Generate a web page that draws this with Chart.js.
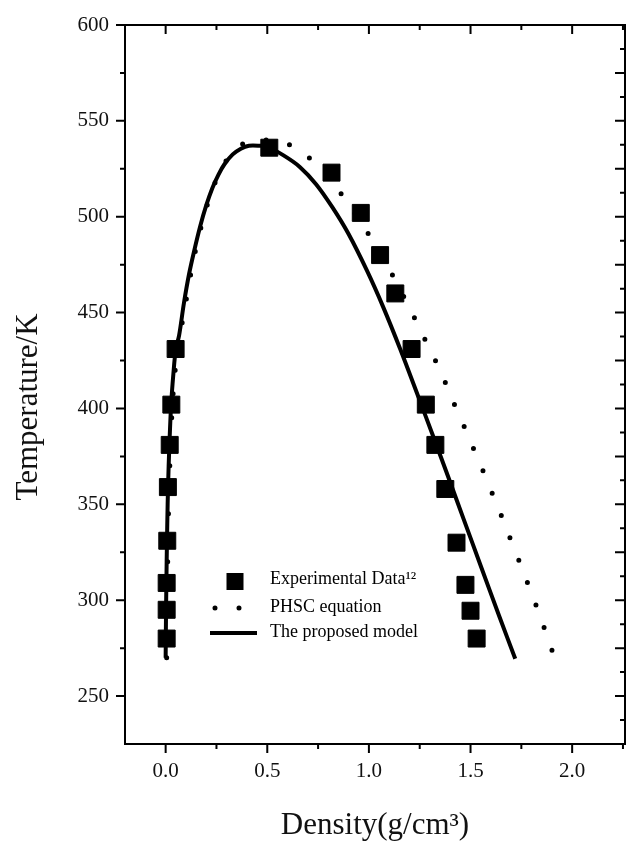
<!DOCTYPE html>
<html>
<head>
<meta charset="utf-8">
<script src="https://cdn.jsdelivr.net/npm/chart.js@4.4.0/dist/chart.umd.min.js"></script>
<style>
html, body { margin: 0; padding: 0; background: #fff; }
</style>
</head>
<body>
<canvas id="mycanvas" width="626" height="841"></canvas>
<script>
// experimental data (vapour branch, critical point, liquid branch)
var expDensity = [0.005, 0.005, 0.005, 0.008, 0.011, 0.02, 0.028, 0.049, 0.51, 0.816, 0.96, 1.055, 1.13, 1.21, 1.28, 1.327, 1.376, 1.431, 1.475, 1.5, 1.53];
var expTemp = [280, 295, 309, 331, 359, 381, 402, 431, 536, 523, 502, 480, 460, 431, 402, 381, 358, 330, 308, 294.5, 280];

// PHSC equation
var phscDensity = [0.005, 0.007, 0.01, 0.013, 0.017, 0.024, 0.033, 0.045, 0.058, 0.075, 0.1, 0.125, 0.15, 0.18, 0.21, 0.24, 0.27, 0.3, 0.34, 0.38, 0.43, 0.5, 0.56, 0.615, 0.72, 0.837, 0.989, 1.116, 1.19, 1.244, 1.297, 1.35, 1.41, 1.459, 1.505, 1.553, 1.612, 1.657, 1.698, 1.747, 1.797, 1.838, 1.876, 1.915];
var phscTemp = [270, 295, 320, 340, 360, 380, 402, 418, 431, 441, 456, 471, 484, 497, 508, 517, 524, 529.5, 534.5, 538, 539.6, 540, 539.3, 537.2, 529.4, 515.7, 492.5, 469.6, 454.5, 443, 431.3, 420, 404.7, 393, 381.4, 369.6, 354.3, 342.7, 331.4, 318.3, 304.4, 293, 281.4, 269.6];

// the proposed model
var modelDensity = [0, 0.002, 0.005, 0.008, 0.012, 0.018, 0.027, 0.038, 0.05, 0.066, 0.09, 0.115, 0.14, 0.17, 0.2, 0.23, 0.26, 0.29, 0.33, 0.37, 0.41, 0.46, 0.5, 0.58, 0.66, 0.74, 0.82, 0.9, 0.99, 1.07, 1.154, 1.24, 1.318, 1.4, 1.467, 1.55, 1.64, 1.72];
var modelTemp = [270, 295, 320, 340, 360, 380, 402, 418, 431, 438, 455, 470, 482, 495, 506, 515, 522, 527.5, 532.5, 535.5, 537, 537, 536.5, 532, 526, 517, 505, 491, 472, 453, 431, 407, 385, 361.5, 342, 318, 292, 269.5];

var xTicks = [0, 0.5, 1, 1.5, 2];
var yTicks = [250, 300, 350, 400, 450, 500, 550, 600];

var labels = ['Experimental Data\u00b9\u00b2', 'PHSC equation', 'The proposed model'];
var xTitle = 'Density(g/cm\u00b3)';
var yTitle = 'Temperature/K';

function toPoints(xs, ys) {
	var pts = [];
	for (var i in xs) {
		pts.push({x: xs[i], y: ys[i]});
	}
	return pts;
}

var serif = '"Liberation Serif", "Times New Roman", serif';

// frame round the plot with ticks on all four sides, plus the y title
var frameTicks = {
	id: 'frameTicks',
	afterDraw: function(chart) {
		var ctx = chart.ctx;
		var a = chart.chartArea;
		var xs = chart.scales.x, ys = chart.scales.y;
		var v, p, len;
		ctx.save();
		ctx.strokeStyle = '#000';
		ctx.lineWidth = 2;
		ctx.strokeRect(a.left, a.top, a.right - a.left, a.bottom - a.top);
		ctx.beginPath();
		// x: major 0.5, minor 0.25; bottom outward, top inward
		for (v = 0; v <= 2.26; v += 0.25) {
			p = xs.getPixelForValue(v);
			len = (Math.round(v * 4) % 2 === 0) ? 9 : 5;
			ctx.moveTo(p, a.bottom); ctx.lineTo(p, a.bottom + len);
			ctx.moveTo(p, a.top); ctx.lineTo(p, a.top + len);
		}
		// left: major 50, minor 25, outward
		for (v = 250; v <= 600; v += 25) {
			p = ys.getPixelForValue(v);
			len = (v % 50 === 0) ? 9 : 5;
			ctx.moveTo(a.left, p); ctx.lineTo(a.left - len, p);
		}
		// right: major 25, minor 12.5, inward
		for (v = 237.5; v <= 600; v += 12.5) {
			p = ys.getPixelForValue(v);
			len = (v % 25 === 0) ? 10 : 5;
			ctx.moveTo(a.right, p); ctx.lineTo(a.right - len, p);
		}
		ctx.stroke();

		// y axis title, sits a little below the middle in the original
		ctx.fillStyle = '#111';
		ctx.font = '31px ' + serif;
		ctx.textAlign = 'center';
		ctx.textBaseline = 'alphabetic';
		ctx.translate(37, 407);
		ctx.rotate(-Math.PI / 2);
		ctx.fillText(yTitle, 0, 0);
		ctx.restore();
	}
};

// legend inside the plot
var insideLegend = {
	id: 'insideLegend',
	afterDraw: function(chart) {
		var ctx = chart.ctx;
		var sampleY = [581.5, 608, 633];
		var textY = [584, 611.5, 636.5];
		ctx.save();
		ctx.fillStyle = '#000';
		ctx.strokeStyle = '#000';
		// square
		ctx.fillRect(226.5, sampleY[0] - 8.5, 17, 17);
		// dots
		ctx.beginPath();
		ctx.arc(215, sampleY[1], 2.5, 0, Math.PI * 2);
		ctx.arc(239, sampleY[1], 2.5, 0, Math.PI * 2);
		ctx.fill();
		// line
		ctx.lineWidth = 4;
		ctx.beginPath();
		ctx.moveTo(210, sampleY[2]);
		ctx.lineTo(257, sampleY[2]);
		ctx.stroke();
		ctx.font = '18px ' + serif;
		ctx.textBaseline = 'alphabetic';
		ctx.textAlign = 'left';
		chart.data.datasets.forEach(function(ds, i) {
			ctx.fillText(ds.label, 270, textY[i]);
		});
		ctx.restore();
	}
};

var chartdata = {
	datasets: [
		{
			label: labels[0],
			data: toPoints(expDensity, expTemp),
			showLine: false,
			pointStyle: 'rect',
			pointRadius: 12,
			pointBackgroundColor: '#000',
			pointBorderColor: '#000',
			pointBorderWidth: 1
		},
		{
			label: labels[1],
			data: toPoints(phscDensity, phscTemp),
			showLine: true,
			borderColor: '#000',
			borderWidth: 5,
			borderDash: [0, 24],
			borderCapStyle: 'round',
			tension: 0.3,
			pointRadius: 0
		},
		{
			label: labels[2],
			data: toPoints(modelDensity, modelTemp),
			showLine: true,
			borderColor: '#000',
			borderWidth: 4,
			tension: 0.3,
			pointRadius: 0
		}
	]
};

var ctx = document.getElementById('mycanvas');

var chart = new Chart(ctx, {
	type: 'scatter',
	data: chartdata,
	options: {
		responsive: false,
		devicePixelRatio: 1,
		animation: false,
		layout: {
			autoPadding: false,
			padding: { top: 25, right: 1, left: 0, bottom: 0 }
		},
		plugins: {
			legend: { display: false },
			tooltip: { enabled: false }
		},
		scales: {
			x: {
				type: 'linear',
				min: -0.2,
				max: 2.26,
				afterBuildTicks: function(scale) {
					scale.ticks = xTicks.map(function(v) { return {value: v}; });
				},
				afterFit: function(scale) {
					scale.height = 97;
					scale.paddingLeft = 0;
					scale.paddingRight = 0;
				},
				grid: { display: false, drawTicks: true, tickLength: 15 },
				border: { display: false },
				ticks: {
					color: '#111',
					padding: 0,
					maxRotation: 0,
					font: { family: serif, size: 21 },
					callback: function(v) { return v.toFixed(1); }
				},
				title: {
					display: true,
					text: xTitle,
					color: '#111',
					font: { family: serif, size: 31, lineHeight: 1 },
					padding: { top: 0, bottom: 0 }
				}
			},
			y: {
				type: 'linear',
				min: 225,
				max: 600,
				afterBuildTicks: function(scale) {
					scale.ticks = yTicks.map(function(v) { return {value: v}; });
				},
				afterFit: function(scale) { scale.width = 125; },
				grid: { display: false, drawTicks: true, tickLength: 16 },
				border: { display: false },
				ticks: {
					color: '#111',
					padding: 0,
					font: { family: serif, size: 21 }
				},
				title: { display: false }
			}
		}
	},
	plugins: [frameTicks, insideLegend]
});
</script>
</body>
</html>
